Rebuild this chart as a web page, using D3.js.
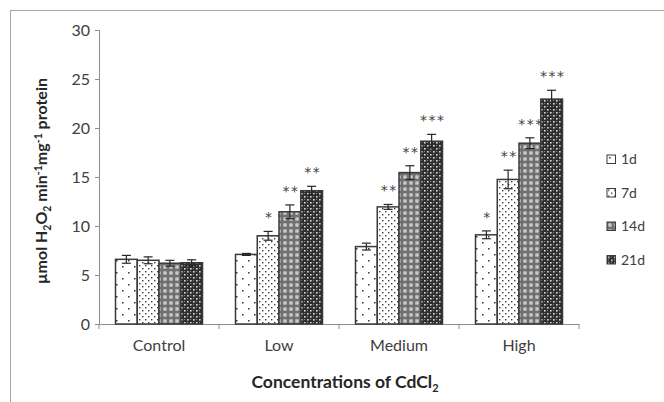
<!DOCTYPE html>
<html>
<head>
<meta charset="utf-8">
<script src="https://cdn.jsdelivr.net/npm/d3@7"></script>
<style>
  body { margin: 0; background: #fff; }
  svg { display: block; font-family: Lato, "Open Sans", sans-serif; }
  .tick text { fill: #404040; }
</style>
</head>
<body>
<div id="svg-container"></div>
<script>
// data
const groups = ["Control", "Low", "Medium", "High"];
const series = ["1d", "7d", "14d", "21d"];
const means = [
  [6.6, 6.5, 6.2, 6.25],
  [7.1, 9.0, 11.45, 13.6],
  [7.9, 11.95, 15.45, 18.65],
  [9.1, 14.75, 18.45, 22.95]
];
const errors = [
  [0.4, 0.35, 0.3, 0.3],
  [0.1, 0.45, 0.7, 0.45],
  [0.35, 0.25, 0.7, 0.7],
  [0.4, 0.95, 0.55, 0.9]
];
const stars = [
  ["", "", "", ""],
  ["", "*", "**", "**"],
  ["", "**", "**", "***"],
  ["*", "**", "***", "***"]
];
const yTicks = [0, 5, 10, 15, 20, 25, 30];

const width = 664, height = 402;
const margin = { top: 30, right: 85, bottom: 78, left: 99 };

const svg = d3.select("#svg-container").append("svg")
  .attr("width", width).attr("height", height);

// chart border
svg.append("rect")
  .attr("x", 10.5).attr("y", 10.5)
  .attr("width", width).attr("height", height)
  .attr("fill", "none").attr("stroke", "#a6a6a6").attr("stroke-width", 1);

// patterns
const defs = svg.append("defs");
function pattern(id, size, bg, draw) {
  const p = defs.append("pattern").attr("id", id)
    .attr("patternUnits", "userSpaceOnUse")
    .attr("width", size).attr("height", size);
  p.append("rect").attr("width", size).attr("height", size).attr("fill", bg);
  draw(p);
}
function dot(p, x, y, s, c) {
  p.append("rect").attr("x", x).attr("y", y).attr("width", s).attr("height", s).attr("fill", c);
}
pattern("p1d", 12, "#fff", (p) => {
  dot(p, 2, 2, 1.5, "#333");
  dot(p, 8, 8, 1.5, "#333");
});
pattern("p7d", 6, "#fff", (p) => {
  dot(p, 1, 1, 1.4, "#3a3a3a");
  dot(p, 4, 4, 1.4, "#3a3a3a");
});
pattern("p14d", 6, "#707070", (p) => {
  dot(p, 1.5, 1.5, 3, "#f4f4f4");
  dot(p, 2.5, 2.5, 1, "#444");
});
pattern("p21d", 6, "#2e2e2e", (p) => {
  dot(p, 1, 1, 1.6, "#d8d8d8");
  dot(p, 4, 4, 1.6, "#d8d8d8");
  dot(p, 4, 1, 1, "#8a8a8a");
  dot(p, 1, 4, 1, "#8a8a8a");
});
const fills = { "1d": "url(#p1d)", "7d": "url(#p7d)", "14d": "url(#p14d)", "21d": "url(#p21d)" };

// scales
const x0 = d3.scaleBand().domain(groups)
  .range([margin.left, width - margin.right])
  .paddingInner(0.275).paddingOuter(0.1375);
const x1 = d3.scaleBand().domain(series).range([0, x0.bandwidth()]);
const y = d3.scaleLinear().domain([0, 30]).range([height - margin.bottom, margin.top]);

// axes
const yAxis = svg.append("g")
  .attr("transform", `translate(${margin.left},0)`)
  .call(d3.axisLeft(y).tickValues(yTicks).tickSize(4).tickPadding(5));
yAxis.selectAll("path, line").attr("stroke", "#8c8c8c");
yAxis.selectAll("text").attr("font-size", 16).attr("font-family", "Lato");

const xAxis = svg.append("g")
  .attr("transform", `translate(0,${height - margin.bottom})`)
  .call(d3.axisBottom(x0).tickSize(0).tickPadding(16).tickSizeOuter(0));
xAxis.select("path").attr("stroke", "#8c8c8c");
xAxis.selectAll("text").attr("font-size", 16).attr("font-family", "Lato");
// category separators
xAxis.selectAll(".sep")
  .data(d3.range(groups.length + 1))
  .enter().append("line")
  .attr("class", "sep")
  .attr("x1", (i) => margin.left + i * x0.step())
  .attr("x2", (i) => margin.left + i * x0.step())
  .attr("y1", 0).attr("y2", 5)
  .attr("stroke", "#8c8c8c");

// bars
const rows = [];
groups.forEach((g, gi) => series.forEach((s, si) => {
  rows.push({ g, s, v: means[gi][si], e: errors[gi][si], star: stars[gi][si] });
}));

const bars = svg.append("g");
bars.selectAll("rect").data(rows).enter().append("rect")
  .attr("x", (d) => x0(d.g) + x1(d.s))
  .attr("y", (d) => y(d.v))
  .attr("width", x1.bandwidth())
  .attr("height", (d) => y(0) - y(d.v))
  .attr("fill", (d) => fills[d.s])
  .attr("stroke", "#3a3a3a")
  .attr("stroke-width", 1.5);

// error bars
const err = svg.append("g").attr("stroke", "#262626").attr("stroke-width", 1.2);
rows.forEach((d) => {
  const cx = x0(d.g) + x1(d.s) + x1.bandwidth() / 2;
  err.append("line").attr("x1", cx).attr("x2", cx).attr("y1", y(d.v - d.e)).attr("y2", y(d.v + d.e));
  err.append("line").attr("x1", cx - 4.5).attr("x2", cx + 4.5).attr("y1", y(d.v + d.e)).attr("y2", y(d.v + d.e));
  err.append("line").attr("x1", cx - 4.5).attr("x2", cx + 4.5).attr("y1", y(d.v - d.e)).attr("y2", y(d.v - d.e));
});

// significance stars
svg.append("g").attr("opacity", 0.99)
  .selectAll("text").data(rows.filter((d) => d.star)).enter().append("text")
  .attr("x", (d) => x0(d.g) + x1(d.s) + x1.bandwidth() / 2 + 1)
  .attr("y", (d) => y(d.v + d.e) - 9)
  .attr("text-anchor", "middle")
  .attr("font-family", "DejaVu Sans")
  .attr("font-size", 14)
  .attr("letter-spacing", 1.5)
  .attr("fill", "#404040")
  .text((d) => d.star);

// legend
const legend = svg.append("g").selectAll("g").data(series).enter().append("g")
  .attr("transform", (d, i) => `translate(607,${155 + i * 33.5})`);
legend.append("rect")
  .attr("width", 8.5).attr("height", 8.5)
  .attr("fill", (d) => fills[d])
  .attr("stroke", "#3a3a3a").attr("stroke-width", 1);
legend.append("text")
  .attr("x", 14).attr("y", 9)
  .attr("font-size", 14).attr("fill", "#404040")
  .text((d) => d);

// axis titles
const xTitle = svg.append("text")
  .attr("x", (margin.left + width - margin.right) / 2 + 6)
  .attr("y", 388)
  .attr("text-anchor", "middle")
  .attr("font-size", 17.5).attr("font-weight", "bold").attr("fill", "#262626");
xTitle.append("tspan").text("Concentrations of CdCl");
xTitle.append("tspan").attr("font-size", 11).attr("dy", 4).text("2");

const yTitle = svg.append("text")
  .attr("transform", `translate(47,181) rotate(-90)`)
  .attr("text-anchor", "middle")
  .attr("font-size", 16).attr("font-weight", "bold").attr("fill", "#262626");
yTitle.append("tspan").text("µmol H");
yTitle.append("tspan").attr("font-size", 10.5).attr("dy", 4).text("2");
yTitle.append("tspan").attr("dy", -4).text("O");
yTitle.append("tspan").attr("font-size", 10.5).attr("dy", 4).text("2");
yTitle.append("tspan").attr("dy", -4).text(" min");
yTitle.append("tspan").attr("font-size", 10.5).attr("dy", -5).text("-1");
yTitle.append("tspan").attr("dy", 5).text("mg");
yTitle.append("tspan").attr("font-size", 10.5).attr("dy", -5).text("-1");
yTitle.append("tspan").attr("dy", 5).text(" protein");
</script>
</body>
</html>
